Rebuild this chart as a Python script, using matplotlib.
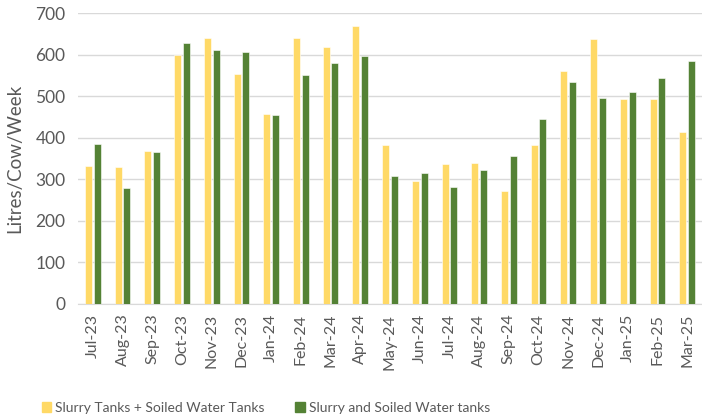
import numpy as np
import matplotlib.pyplot as plt
from matplotlib.patches import Patch

months = ['Jul-23', 'Aug-23', 'Sep-23', 'Oct-23', 'Nov-23', 'Dec-23', 'Jan-24',
          'Feb-24', 'Mar-24', 'Apr-24', 'May-24', 'Jun-24', 'Jul-24', 'Aug-24',
          'Sep-24', 'Oct-24', 'Nov-24', 'Dec-24', 'Jan-25', 'Feb-25', 'Mar-25']
tanks_plus = [332, 329, 369, 598, 641, 553, 457, 641, 619, 668, 383,
              296, 337, 340, 271, 383, 561, 637, 492, 492, 413]
tanks_and = [385, 279, 365, 627, 612, 607, 454, 551, 579, 596, 307,
             315, 281, 322, 356, 444, 533, 495, 511, 543, 584]

plt.rcParams['font.family'] = ['Lato', 'DejaVu Sans']
grey = '#595959'

fig = plt.figure(figsize=(7.02, 4.18), dpi=100)
ax = fig.add_axes([78 / 702, 1 - 304 / 418, 1 - 78 / 702, (304 - 13) / 418])

x = np.arange(len(months))
w = 0.235
ax.bar(x - 0.145, tanks_plus, w, color='#FFD966', edgecolor='white', linewidth=0.4, zorder=3)
ax.bar(x + 0.145, tanks_and, w, color='#548235', edgecolor='white', linewidth=0.4, zorder=3)

ax.set_xlim(-0.5, len(months) - 0.5)
ax.set_ylim(0, 700)
ax.set_yticks(range(0, 701, 100))
ax.yaxis.grid(True, color='#D9D9D9', linewidth=1, zorder=0)
ax.set_xticks(x)
ax.set_xticklabels(months, rotation=90)
ax.tick_params(axis='x', length=0, labelsize=11.5, colors=grey, pad=7)
ax.tick_params(axis='y', length=0, labelsize=12.5, colors=grey, pad=9)
for s in ['top', 'right', 'left']:
    ax.spines[s].set_visible(False)
ax.spines['bottom'].set_color('#D9D9D9')
ax.set_ylabel('Litres/Cow/Week', fontsize=13.5, color=grey, labelpad=9)

handles = [Patch(color='#FFD966', label='Slurry Tanks + Soiled Water Tanks'),
           Patch(color='#548235', label='Slurry and Soiled Water tanks')]
fig.legend(handles=handles, loc='center', bbox_to_anchor=(0.379, 0.024), ncol=2,
           frameon=False, fontsize=10, labelcolor=grey, handlelength=0.7,
           handleheight=0.7, handletextpad=0.3, columnspacing=2.2)

fig.savefig('out.png', dpi=100)
